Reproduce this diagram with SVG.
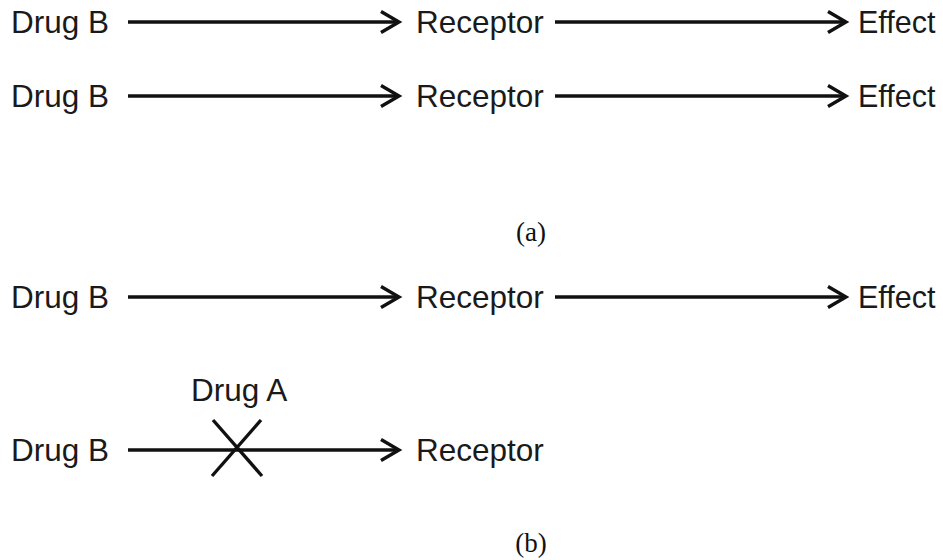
<svg xmlns="http://www.w3.org/2000/svg" width="943" height="560" viewBox="0 0 943 560">
  <style>
    .lbl { font-family: "Liberation Sans", Arial, sans-serif; font-size: 31.5px; fill: #1a1a1a; }
    .eff { font-family: "Liberation Sans", Arial, sans-serif; font-size: 30.5px; fill: #1a1a1a; }
    .cap { font-family: "Liberation Serif", "DejaVu Serif", serif; font-size: 27px; fill: #111; text-anchor: middle; }
    .edge { stroke: #111; stroke-width: 3.4; fill: none; }
    .head { stroke: #111; stroke-width: 3.4; fill: none; stroke-linecap: butt; stroke-linejoin: miter; }
  </style>
  <defs>
    <path id="chev" d="M -18 -10.5 L 0 0 L -18 10.5" class="head"/>
  </defs>
  <rect width="943" height="560" fill="#ffffff"/>

  <!-- row 1 -->
  <g id="r1-drugB"><text class="lbl" x="11" y="33">Drug B</text></g>
  <g id="r1-receptor"><text class="lbl" x="416" y="33">Receptor</text></g>
  <g id="r1-effect"><text class="eff" x="858" y="33">Effect</text></g>

  <!-- row 2 -->
  <g id="r2-drugB"><text class="lbl" x="11" y="107">Drug B</text></g>
  <g id="r2-receptor"><text class="lbl" x="416" y="107">Receptor</text></g>
  <g id="r2-effect"><text class="eff" x="858" y="107">Effect</text></g>

  <!-- row 3 -->
  <g id="r3-drugB"><text class="lbl" x="11" y="308">Drug B</text></g>
  <g id="r3-receptor"><text class="lbl" x="416" y="308">Receptor</text></g>
  <g id="r3-effect"><text class="eff" x="858" y="308">Effect</text></g>

  <!-- row 4 -->
  <g id="r4-drugB"><text class="lbl" x="11" y="461">Drug B</text></g>
  <g id="r4-receptor"><text class="lbl" x="416" y="461">Receptor</text></g>
  <g id="r4-drugA"><text class="lbl" x="191" y="401">Drug A</text></g>

  <!-- captions -->
  <text class="cap" x="531" y="241">(a)</text>
  <text class="cap" x="531" y="552">(b)</text>

  <g id="connectors">
    <line class="edge" x1="128" y1="22" x2="397" y2="22"/>
    <use href="#chev" x="399" y="22"/>
    <line class="edge" x1="555" y1="22" x2="844" y2="22"/>
    <use href="#chev" x="846" y="22"/>

    <line class="edge" x1="128" y1="96" x2="397" y2="96"/>
    <use href="#chev" x="399" y="96"/>
    <line class="edge" x1="555" y1="96" x2="844" y2="96"/>
    <use href="#chev" x="846" y="96"/>

    <line class="edge" x1="128" y1="297" x2="397" y2="297"/>
    <use href="#chev" x="399" y="297"/>
    <line class="edge" x1="555" y1="297" x2="844" y2="297"/>
    <use href="#chev" x="846" y="297"/>

    <line class="edge" x1="128" y1="450" x2="397" y2="450"/>
    <use href="#chev" x="399" y="450"/>
    <!-- blocking cross on the Drug B -> Receptor path -->
    <line class="edge" x1="213" y1="420" x2="262" y2="476"/>
    <line class="edge" x1="261" y1="420" x2="212" y2="476"/>
  </g>
</svg>
